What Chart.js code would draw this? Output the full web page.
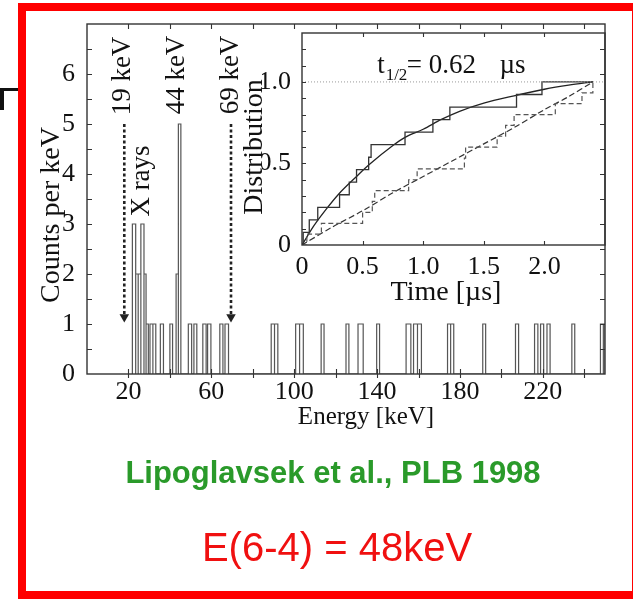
<!DOCTYPE html>
<html>
<head>
<meta charset="utf-8">
<script src="https://cdn.jsdelivr.net/npm/chart.js@4.4.1/dist/chart.umd.min.js"></script>
<style>
  html, body { margin: 0; padding: 0; background: #fff; }
  body { width: 633px; height: 601px; position: relative; overflow: hidden; font-family: 'Liberation Sans', Arial, sans-serif; }
  canvas { position: absolute; left: 0; top: 0; }
  #frame { position: absolute; left: 18px; top: 3px; width: 606px; height: 580px; border: 8px solid #f00; }
  .mark { position: absolute; background: #111; }
  #ref { position: absolute; left: 0; width: 666px; top: 455px; text-align: center; color: #2a9a2a; font-weight: bold; font-size: 31px; line-height: 36px; }
  #energy { position: absolute; left: 0; width: 674px; top: 524px; text-align: center; color: #f01010; font-size: 40px; line-height: 46px; }
</style>
</head>
<body>
<div class="mark" style="left:0;top:88px;width:20px;height:3px"></div>
<div class="mark" style="left:0;top:88px;width:4px;height:22px"></div>
<div id="frame"></div>
<canvas id="mainChart" width="633" height="601"></canvas>
<canvas id="insetChart" width="633" height="601"></canvas>
<div id="ref">Lipoglavsek et al., PLB 1998</div>
<div id="energy">E(6-4) = 48keV</div>
<script>
// energy spectrum: bins (keV) and counts per bin
let binLo = [21.9, 23.5, 24.7, 26.0, 27.5, 28.5, 30.4, 31.8, 35.4, 40.0, 43.0, 44.1, 48.9, 51.6, 55.9, 58.2, 64.1, 66.6,
  88.9, 90.5, 100.7, 102.6, 113.0, 125.0, 130.8, 139.8, 154.0, 157.6, 159.5, 174.0, 175.5, 191.0, 206.8, 216.0, 218.9, 222.0, 234.0, 247.8, 249.2];
let binHi = [23.5, 24.7, 26.0, 27.5, 28.5, 29.6, 31.8, 33.2, 36.9, 41.3, 44.1, 45.3, 50.5, 53.0, 57.5, 59.8, 65.6, 68.3,
  90.5, 92.1, 102.6, 104.4, 114.4, 126.4, 133.3, 141.2, 156.3, 159.5, 161.4, 175.5, 177.0, 192.4, 208.3, 217.6, 220.4, 223.5, 235.4, 249.2, 250];
let counts = [3, 2, 2, 3, 2, 1, 1, 1, 1, 1, 2, 5, 1, 1, 1, 1, 1, 1,
  1, 1, 1, 1, 1, 1, 1, 1, 1, 1, 1, 1, 1, 1, 1, 1, 1, 1, 1, 1, 1];

// gate arrows (keV), shaft from arrowTop down to arrowTip counts
let arrowE = [18, 69.5];
let arrowTop = 5.0;
let arrowTip = 1.14;

// inset: time distributions (us)
let fastT = [0, 0.01, 0.06, 0.13, 0.31, 0.39, 0.45, 0.55, 0.57, 0.85, 1.08, 1.22, 1.77, 1.98, 2.40];
let fastLevel = [0, 0.077, 0.154, 0.231, 0.308, 0.385, 0.462, 0.538, 0.615, 0.692, 0.769, 0.846, 0.923, 1.0, 1.0];
let fitT = [0, 0.1, 0.2, 0.3, 0.45, 0.55, 0.75, 0.85, 1.0, 1.15, 1.3, 1.5, 1.75, 2.0, 2.2, 2.4];
let fitLevel = [0, 0.12, 0.22, 0.31, 0.42, 0.49, 0.61, 0.66, 0.71, 0.77, 0.82, 0.87, 0.915, 0.955, 0.98, 1.0];
let slowT = [0, 0.04, 0.16, 0.50, 0.58, 0.60, 0.88, 0.95, 1.34, 1.35, 1.61, 1.68, 1.75, 2.09, 2.31, 2.40];
let slowLevel = [0, 0.067, 0.133, 0.2, 0.267, 0.333, 0.4, 0.467, 0.533, 0.6, 0.667, 0.733, 0.8, 0.867, 0.933, 1.0];
let linT = [0, 0.25, 0.5, 0.75, 1.0, 1.25, 1.5, 1.75, 2.0, 2.2, 2.4];
let linLevel = [0, 0.11, 0.21, 0.32, 0.42, 0.52, 0.62, 0.72, 0.83, 0.91, 1.0];
let refT = [0, 2.5];
let refLevel = [1.0, 1.0];

let serif = "'Liberation Serif', 'Times New Roman', serif";
Chart.defaults.font.family = serif;
Chart.defaults.color = '#111';
Chart.defaults.animation = false;

function pts(xs, ys) {
  return xs.map((v, i) => ({x: v, y: ys[i]}));
}

// each bin drawn as an open rectangle standing on the axis
function outline() {
  let out = [];
  for (let i = 0; i < binLo.length; i++) {
    out.push({x: binLo[i], y: 0}, {x: binLo[i], y: counts[i]}, {x: binHi[i], y: counts[i]}, {x: binHi[i], y: 0});
  }
  return out;
}

// box around the plot with ticks pointing inside
let boxTicks = {
  id: 'boxTicks',
  afterDatasetsDraw(chart, args, o) {
    let {ctx, chartArea: a, scales: {x, y}} = chart;
    ctx.save();
    ctx.strokeStyle = '#333';
    ctx.lineWidth = 1.4;
    ctx.strokeRect(a.left, a.top, a.right - a.left, a.bottom - a.top);
    ctx.lineWidth = 1.1;
    ctx.beginPath();
    for (let v = x.min + o.xStep; v < x.max - 1e-6; v += o.xStep) {
      let px = Math.round(x.getPixelForValue(v)) + 0.5;
      ctx.moveTo(px, a.bottom + o.out); ctx.lineTo(px, a.bottom - o.len);
      if (o.top) { ctx.moveTo(px, a.top); ctx.lineTo(px, a.top + o.len); }
    }
    for (let v = y.min + o.yStep; v < y.max - 1e-6; v += o.yStep) {
      let py = Math.round(y.getPixelForValue(v)) + 0.5;
      ctx.moveTo(a.left, py); ctx.lineTo(a.left + o.len, py);
      if (o.right) { ctx.moveTo(a.right, py); ctx.lineTo(a.right - o.len, py); }
    }
    ctx.stroke();
    ctx.restore();
  }
};

// free text: data position (x,y) or pixel position (px,py)
let notes = {
  id: 'notes',
  afterDraw(chart, args, o) {
    let {ctx, scales: {x, y}} = chart;
    for (let n of o.items) {
      let px = n.px !== undefined ? n.px : x.getPixelForValue(n.x);
      let py = n.py !== undefined ? n.py : y.getPixelForValue(n.y);
      ctx.save();
      ctx.fillStyle = '#111';
      ctx.font = (n.size || 27) + 'px ' + serif;
      ctx.textAlign = n.align || 'center';
      ctx.textBaseline = n.base || 'middle';
      ctx.translate(px, py);
      ctx.rotate(n.rot || 0);
      ctx.fillText(n.text, 0, 0);
      ctx.restore();
    }
  }
};

let up = -Math.PI / 2;

let arrowSets = arrowE.map(e => ({
  data: [{x: e, y: arrowTop}, {x: e, y: arrowTip}],
  borderColor: '#222',
  borderWidth: 2.6,
  borderDash: [3, 2.5],
  pointRadius: c => c.dataIndex === 1 ? 5.5 : 0,
  pointStyle: 'triangle',
  rotation: 180,
  pointBackgroundColor: '#222',
  pointBorderWidth: 0
}));

new Chart(document.getElementById('mainChart'), {
  type: 'line',
  data: {
    datasets: [{
      data: outline(),
      borderColor: '#555',
      borderWidth: 1.2,
      pointRadius: 0,
      tension: 0
    }].concat(arrowSets)
  },
  options: {
    responsive: false,
    layout: {padding: {left: 57, top: 24, right: 28, bottom: 187}},
    plugins: {
      legend: {display: false},
      tooltip: {enabled: false},
      boxTicks: {xStep: 20, yStep: 0.5, len: 5, out: 4, top: true, right: true},
      notes: {items: [
        {text: '19 keV', x: 17.4, y: 5.96, rot: up},
        {text: 'X rays', x: 26.3, y: 3.86, rot: up},
        {text: '44 keV', x: 43.2, y: 5.98, rot: up},
        {text: '69 keV', x: 69.5, y: 5.98, rot: up},
        {text: 'Counts per keV', px: 52, py: 215, rot: up, size: 28},
        {text: 'Energy [keV]', px: 366, py: 417, size: 25}
      ]}
    },
    scales: {
      x: {
        type: 'linear', min: 0, max: 250,
        grid: {display: false}, border: {display: false},
        afterFit: s => { s.height = 40; },
        ticks: {
          stepSize: 20, includeBounds: false, autoSkip: false, maxRotation: 0, padding: -5,
          font: {size: 26},
          callback: v => (v % 40 === 20 ? v : '')
        }
      },
      y: {
        min: 0, max: 7,
        grid: {display: false}, border: {display: false},
        afterFit: s => { s.width = 30; },
        ticks: {stepSize: 1, padding: 4, font: {size: 26}, callback: v => (v < 7 ? v : '')}
      }
    }
  },
  plugins: [boxTicks, notes]
});

new Chart(document.getElementById('insetChart'), {
  type: 'line',
  data: {
    datasets: [
      {data: pts(refT, refLevel), borderColor: '#999', borderWidth: 1, borderDash: [1, 2], pointRadius: 0},
      {data: pts(slowT, slowLevel), stepped: true, borderColor: '#555', borderWidth: 1.2, borderDash: [5, 3], pointRadius: 0},
      {data: pts(linT, linLevel), borderColor: '#333', borderWidth: 1.2, borderDash: [6, 3], pointRadius: 0, tension: 0.3},
      {data: pts(fastT, fastLevel), stepped: true, borderColor: '#333', borderWidth: 1.3, pointRadius: 0},
      {data: pts(fitT, fitLevel), borderColor: '#222', borderWidth: 1.3, pointRadius: 0, cubicInterpolationMode: 'monotone'}
    ]
  },
  options: {
    responsive: false,
    layout: {padding: {left: 262, top: 33, right: 28, bottom: 316}},
    plugins: {
      legend: {display: false},
      tooltip: {enabled: false},
      boxTicks: {xStep: 0.5, yStep: 0.1, len: 4, out: 0, top: true, right: false},
      notes: {items: [
        {text: 't', x: 0.62, y: 1.055, align: 'left', base: 'alphabetic'},
        {text: '1/2', x: 0.69, y: 1.01, align: 'left', base: 'alphabetic', size: 17},
        {text: '= 0.62', x: 0.865, y: 1.055, align: 'left', base: 'alphabetic'},
        {text: '\u00b5s', x: 1.63, y: 1.055, align: 'left', base: 'alphabetic'},
        {text: 'Distribution', px: 255, py: 147, rot: up, size: 28},
        {text: 'Time [\u00b5s]', px: 446, py: 293, size: 28}
      ]}
    },
    scales: {
      x: {
        type: 'linear', min: 0, max: 2.5,
        grid: {display: false}, border: {display: false},
        afterFit: s => { s.height = 40; },
        ticks: {
          stepSize: 0.5, includeBounds: false, autoSkip: false, maxRotation: 0, padding: -1,
          font: {size: 26},
          callback: v => (v === 0 ? '0' : v < 2.4 ? v.toFixed(1) : '')
        }
      },
      y: {
        min: 0, max: 1.3,
        grid: {display: false}, border: {display: false},
        afterFit: s => { s.width = 40; },
        ticks: {stepSize: 0.5, includeBounds: false, padding: 3, font: {size: 26}, callback: v => (v === 0 ? '0' : v.toFixed(1))}
      }
    }
  },
  plugins: [boxTicks, notes]
});
</script>
</body>
</html>
